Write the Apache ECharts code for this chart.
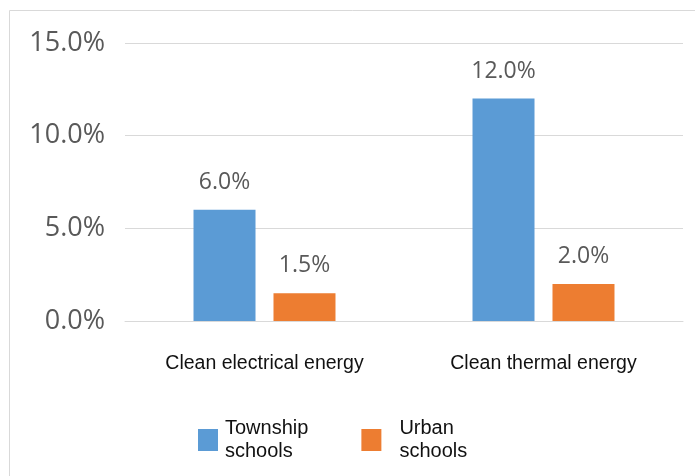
<!DOCTYPE html>
<html>
<head>
<meta charset="utf-8">
<script src="https://cdn.jsdelivr.net/npm/echarts@6/dist/echarts.min.js"></script>
<style>
  html, body { margin: 0; padding: 0; background: #fff; }
</style>
</head>
<body>
<div id="chart" style="width:695px;height:476px"></div>
<script>
// chart data
var categories = ['Clean electrical energy', 'Clean thermal energy'];
var township = [6.0, 12.0];
var urban = [1.5, 2.0];
var seriesNames = ['Township\nschools', 'Urban\nschools'];

var colors = ['#5b9bd5', '#ed7d31'];
var labelFont = "'Open Sans', 'Noto Sans', sans-serif";

var myChart = echarts.init(document.getElementById('chart'));
var option = {
  color: colors,
  animation: false,
  graphic: [{
    type: 'rect',
    shape: { x: 9.5, y: 10.5, width: 700, height: 480 },
    style: { fill: 'none', stroke: '#d9d9d9', lineWidth: 1 },
    silent: true
  }],
  grid: { left: 125, right: 12, top: 43, bottom: 155 },
  legend: {
    data: [
      { name: seriesNames[0] },
      { name: seriesNames[1], textStyle: { padding: [0, 0, 0, 13] } }
    ],
    left: 193,
    top: 412,
    itemWidth: 20,
    itemHeight: 22,
    itemGap: 53,
    icon: 'rect',
    textStyle: { fontFamily: 'Arial, Liberation Sans', fontSize: 20, color: '#111', lineHeight: 23, padding: [0, 0, 0, 2] }
  },
  xAxis: {
    type: 'category',
    data: categories,
    axisTick: { show: false },
    axisLine: { lineStyle: { color: '#d9d9d9', width: 1 } },
    axisLabel: { margin: 33, fontFamily: 'Arial, Liberation Sans', fontSize: 19.5, color: '#111' }
  },
  yAxis: {
    type: 'value',
    min: 0,
    max: 15,
    interval: 5,
    axisLine: { show: false },
    axisTick: { show: false },
    splitLine: { lineStyle: { color: '#d9d9d9', width: 1 } },
    axisLabel: {
      formatter: function (v) { return v.toFixed(1) + '%'; },
      margin: 20,
      fontFamily: labelFont,
      fontSize: 27,
      color: '#595959'
    }
  },
  series: [
    {
      name: seriesNames[0],
      type: 'bar',
      barWidth: 62,
      barGap: '29%',
      data: township,
      label: {
        show: true, position: 'top', distance: 16,
        formatter: function (p) { return p.value.toFixed(1) + '%'; },
        fontFamily: labelFont, fontSize: 23, color: '#595959'
      }
    },
    {
      name: seriesNames[1],
      type: 'bar',
      barWidth: 62,
      data: urban,
      label: {
        show: true, position: 'top', distance: 16,
        formatter: function (p) { return p.value.toFixed(1) + '%'; },
        fontFamily: labelFont, fontSize: 23, color: '#595959'
      }
    }
  ]
};
option && myChart.setOption(option);
</script>
</body>
</html>
